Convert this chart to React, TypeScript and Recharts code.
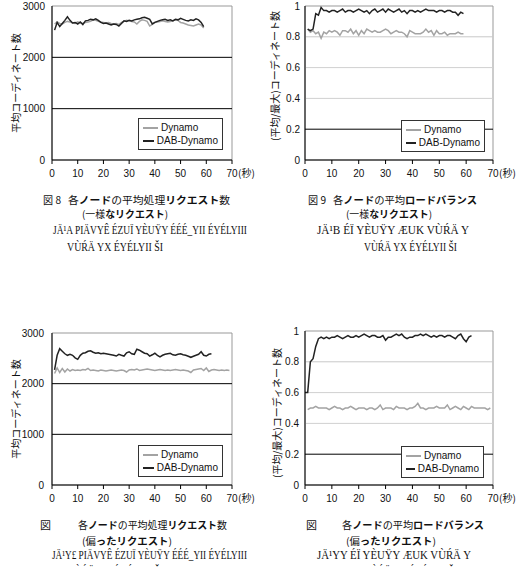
import React from "react";
import {
  LineChart,
  Line,
  XAxis,
  YAxis,
  ReferenceLine,
  ReferenceArea,
  Legend,
  Label,
} from "recharts";

const FONT = "'Liberation Sans', Arial, sans-serif";
const JP = "'Noto Sans CJK JP', 'Noto Sans', sans-serif";
const GRAY = "#a3a3a3";
const BLACK = "#222";

const xTicks = [0, 10, 20, 30, 40, 50, 60, 70];
const countTicks = [0, 1000, 2000, 3000];
const ratioTicks = [0, 0.2, 0.4, 0.6, 0.8, 1];

// fig 8: uniform requests, avg coordinated requests (from t=1)
const uniCountDynamo = [
  2650, 2690, 2660, 2650, 2680, 2700, 2690, 2670, 2660, 2690, 2670, 2660, 2680, 2690, 2700,
  2730, 2720, 2700, 2690, 2680, 2670, 2680, 2660, 2650, 2660, 2640, 2680, 2700, 2720, 2710,
  2700, 2690, 2650, 2700, 2730, 2720, 2700, 2610, 2640, 2680, 2690, 2700, 2710, 2700, 2690,
  2700, 2710, 2730, 2720, 2680, 2670, 2650, 2630, 2620, 2610, 2630, 2650, 2630, 2570,
];
const uniCountDab = [
  2530, 2680, 2600, 2660, 2720, 2790, 2720, 2670, 2680, 2650, 2690, 2640, 2710, 2720, 2740,
  2730, 2750, 2720, 2680, 2660, 2670, 2650, 2630, 2650, 2640, 2610, 2660, 2710, 2700, 2720,
  2710, 2730, 2740, 2750, 2770, 2780, 2760, 2740, 2650, 2680, 2700, 2720, 2730, 2740, 2720,
  2730, 2710, 2740, 2730, 2760, 2740, 2720, 2710, 2730, 2720, 2750, 2730, 2680, 2600,
];

// fig 9: uniform requests, avg/max ratio (from t=1)
const uniRatioDynamo = [
  0.85, 0.83, 0.84, 0.82, 0.83, 0.79, 0.83, 0.82, 0.84, 0.83, 0.84, 0.83, 0.81, 0.84, 0.84,
  0.83, 0.85, 0.82, 0.84, 0.81, 0.84, 0.82, 0.85, 0.84, 0.83, 0.84, 0.83, 0.83, 0.84, 0.85,
  0.84, 0.82, 0.83, 0.84, 0.83, 0.83, 0.82, 0.8, 0.84, 0.83, 0.82, 0.82, 0.82, 0.83, 0.85,
  0.83, 0.84, 0.81, 0.84, 0.82, 0.82, 0.83, 0.81, 0.82, 0.82, 0.82, 0.83, 0.82, 0.82,
];
const uniRatioDab = [
  0.85, 0.84, 0.85, 0.95, 0.94, 0.99, 0.97, 0.97, 0.96, 0.97, 0.97, 0.96, 0.97, 0.98, 0.96,
  0.97, 0.97, 0.96, 0.97, 0.98, 0.97, 0.96, 0.97, 0.95, 0.97, 0.98, 0.96, 0.97, 0.98, 0.96,
  0.98, 0.97, 0.96, 0.97, 0.98, 0.96, 0.97, 0.95, 0.97, 0.97, 0.96, 0.97, 0.96, 0.97, 0.98,
  0.97, 0.97, 0.97, 0.96, 0.97, 0.97, 0.96, 0.97, 0.97, 0.96, 0.96, 0.94, 0.96, 0.95,
];

// fig 10: skewed requests, avg coordinated requests (from t=1)
const skewCountDynamo = [
  2200, 2310, 2220, 2300, 2230, 2290, 2250, 2280, 2260, 2270, 2260, 2280, 2270, 2300, 2260,
  2270, 2260, 2250, 2270, 2260, 2250, 2260, 2270, 2260, 2250, 2260, 2270, 2260, 2230, 2270,
  2280, 2270, 2290, 2260, 2270, 2280, 2290, 2280, 2270, 2260, 2270, 2280, 2270, 2260, 2270,
  2260, 2270, 2280, 2270, 2260, 2270, 2260, 2250, 2220, 2270, 2280, 2290, 2300, 2260, 2310,
  2240, 2270, 2280, 2270, 2260, 2270, 2260, 2270, 2260,
];
const skewCountDab = [
  2270, 2560, 2690, 2640, 2590, 2560, 2580, 2560, 2510, 2480, 2560, 2600, 2610, 2640, 2650,
  2620, 2600, 2610, 2590, 2600, 2590, 2580, 2570, 2560, 2545, 2580, 2560, 2545, 2610, 2630,
  2590, 2580, 2680, 2660, 2630, 2600, 2590, 2545, 2570, 2600, 2560, 2530, 2560, 2580, 2590,
  2600, 2570, 2560, 2580, 2590, 2570, 2560, 2540, 2520, 2540, 2560, 2580, 2630, 2560, 2545,
  2580, 2590,
];

// fig 11: skewed requests, avg/max ratio (Dynamo from t=1, DAB from t=0)
const skewRatioDynamo = [
  0.49, 0.5, 0.5, 0.51, 0.5, 0.5, 0.5, 0.5, 0.49, 0.5, 0.51, 0.5, 0.5, 0.49, 0.5, 0.5, 0.51,
  0.5, 0.49, 0.5, 0.5, 0.5, 0.49, 0.5, 0.5, 0.49, 0.5, 0.52, 0.49, 0.5, 0.5, 0.5, 0.49, 0.51,
  0.5, 0.5, 0.5, 0.49, 0.5, 0.5, 0.51, 0.53, 0.5, 0.5, 0.49, 0.5, 0.5, 0.5, 0.51, 0.5, 0.5,
  0.5, 0.52, 0.49, 0.5, 0.51, 0.5, 0.49, 0.51, 0.5, 0.49, 0.51, 0.5, 0.5, 0.5, 0.5, 0.5, 0.49,
  0.5,
];
const skewRatioDab = [
  0.6, 0.6, 0.8, 0.82, 0.9, 0.95, 0.96, 0.95, 0.96, 0.95, 0.96, 0.96, 0.97, 0.96, 0.95, 0.96,
  0.97, 0.96, 0.96, 0.97, 0.96, 0.97, 0.98, 0.97, 0.96, 0.97, 0.97, 0.96, 0.96, 0.97, 0.94,
  0.96, 0.96, 0.97, 0.98, 0.97, 0.98, 0.96, 0.95, 0.96, 0.96, 0.97, 0.97, 0.98, 0.97, 0.98,
  0.97, 0.96, 0.97, 0.96, 0.97, 0.97, 0.96, 0.97, 0.97, 0.96, 0.95, 0.97, 0.98, 0.95, 0.93,
  0.96, 0.97,
];

const buildRows = (dynamo: number[], dStart: number, dab: number[], bStart: number) => {
  const last = Math.max(dStart + dynamo.length, bStart + dab.length);
  const rows: { t: number; dynamo: number | null; dab: number | null }[] = [];
  for (let t = 0; t < last; t++) {
    rows.push({ t, dynamo: dynamo[t - dStart] ?? null, dab: dab[t - bStart] ?? null });
  }
  return rows;
};

const XTick = (props: any) => {
  const { x, y, payload } = props;
  return (
    <g>
      <text x={x} y={y} dy={8} textAnchor="middle" fontSize={10} fill="#111" fontFamily={FONT}>
        {payload.value}
      </text>
      {payload.value === 70 && (
        <text x={x + 6} y={y} dy={8} textAnchor="start" fontSize={10} fill="#111" fontFamily={JP}>
          (秒)
        </text>
      )}
    </g>
  );
};

const LegendBox = () => (
  <div
    style={{
      border: "1px solid #333",
      background: "#fff",
      boxSizing: "border-box",
      padding: "2px 4px",
      fontFamily: FONT,
      fontSize: 10,
      color: "#111",
      lineHeight: "13px",
    }}
  >
    {[
      ["Dynamo", GRAY],
      ["DAB-Dynamo", BLACK],
    ].map(([name, c]) => (
      <div key={name} style={{ display: "flex", alignItems: "center", whiteSpace: "nowrap" }}>
        <span style={{ display: "inline-block", width: 15, borderTop: `2px solid ${c}`, marginRight: 3 }} />
        {name}
      </div>
    ))}
  </div>
);

interface PanelProps {
  left: number;
  top: number;
  height: number;
  marginTop: number;
  marginRight: number;
  yWidth: number;
  yMax: number;
  yTicks: number[];
  yLabel: string;
  labelPos: [number, number];
  grid: [number, string][];
  legendPos: [number, number, number];
  rows: { t: number; dynamo: number | null; dab: number | null }[];
  tickGap: number;
}

const Panel = (p: PanelProps) => (
  <div style={{ position: "absolute", left: p.left, top: p.top }}>
    <LineChart
      width={264}
      height={p.height}
      data={p.rows}
      margin={{ top: p.marginTop, right: p.marginRight, bottom: 0, left: 0 }}
    >
      <ReferenceArea x1={0} x2={70} y1={0} y2={p.yMax} fill="none" stroke="#999" strokeWidth={1} />
      {p.grid.map(([v, c]) => (
        <ReferenceLine key={v} y={v} stroke={c} strokeWidth={1} />
      ))}
      <XAxis
        dataKey="t"
        type="number"
        domain={[0, 70]}
        ticks={xTicks}
        height={25}
        tickSize={4}
        tickMargin={5}
        axisLine={{ stroke: "#000" }}
        tickLine={{ stroke: "#000" }}
        tick={(tp: any) => <XTick {...tp} />}
      />
      <YAxis
        type="number"
        domain={[0, p.yMax]}
        ticks={p.yTicks}
        width={p.yWidth}
        tickSize={0}
        tickMargin={p.tickGap}
        axisLine={{ stroke: "#000" }}
        tickLine={false}
        tick={{ fontSize: 10, fill: "#111", fontFamily: FONT }}
      >
        <Label
          content={() => (
            <text
              x={p.labelPos[0]}
              y={p.labelPos[1]}
              transform={`rotate(-90 ${p.labelPos[0]} ${p.labelPos[1]})`}
              textAnchor="middle"
              dominantBaseline="central"
              fontSize={10}
              fill="#111"
              fontFamily={JP}
            >
              {p.yLabel}
            </text>
          )}
        />
      </YAxis>
      <Legend
        layout="vertical"
        align="center"
        verticalAlign="middle"
        wrapperStyle={{ left: p.legendPos[0], top: p.legendPos[1], width: p.legendPos[2] }}
        content={() => <LegendBox />}
      />
      <Line dataKey="dynamo" stroke={GRAY} strokeWidth={1.5} dot={false} isAnimationActive={false} />
      <Line dataKey="dab" stroke={BLACK} strokeWidth={1.5} dot={false} isAnimationActive={false} />
    </LineChart>
  </div>
);

const countGrid: [number, string][] = [
  [1000, "#000"],
  [2000, "#000"],
];
const ratioGrid: [number, string][] = [
  [0.2, "#000"],
  [0.4, "#d0d0d0"],
  [0.6, "#d0d0d0"],
  [0.8, "#c8c8c8"],
];

const Cap = ({ x, y, w, size = 10, serif = false, children }: any) => (
  <text
    x={x}
    y={y}
    textLength={w}
    lengthAdjust="spacingAndGlyphs"
    fontSize={size}
    fontFamily={serif ? "'Liberation Serif', serif" : JP}
    fill="#111"
  >
    {children}
  </text>
);

const B = ({ children }: any) => <tspan fontWeight="bold">{children}</tspan>;

const Captions = () => (
  <svg
    width={528}
    height={567}
    style={{ position: "absolute", left: 0, top: 0, pointerEvents: "none" }}
  >
    {/* fig 8 */}
    <Cap x={43} y={204} w={18}>図 8</Cap>
    <Cap x={68} y={204} w={162}>
      各<B>ノード</B>の平均処理<B>リクエスト</B>数
    </Cap>
    <Cap x={82} y={218} w={86}>
      (一様<B>なリクエスト</B>)
    </Cap>
    <Cap x={53} y={234} w={194} size={13} serif>JÄ¹A  PIÄVYÊ ÉZUÏ YÈUŸY ÉÉÉ_YII  ÉYÉLYIII</Cap>
    <Cap x={67} y={251} w={96} size={13} serif>VÙŔÄ YX ÉYÉLYII ŠI</Cap>

    {/* fig 9 */}
    <Cap x={308} y={204} w={18}>図 9</Cap>
    <Cap x={333} y={204} w={144}>
      各<B>ノード</B>の平均<B>ロードバランス</B>
    </Cap>
    <Cap x={346} y={218} w={86}>
      (一様<B>なリクエスト</B>)
    </Cap>
    <Cap x={317} y={234} w={152} size={13} serif>JÄ¹B  ÉÏ YÈUŸY ÆUK VÙŔÄ Y</Cap>
    <Cap x={364} y={251} w={93} size={13} serif>VÙŔÄ YX ÉYÉLYII ŠI</Cap>

    {/* fig 10 */}
    <Cap x={40} y={529} w={11}>図</Cap>
    <Cap x={78} y={529} w={149}>
      各<B>ノード</B>の平均処理<B>リクエスト</B>数
    </Cap>
    <Cap x={82} y={545} w={90}>
      (偏<B>ったリクエスト</B>)
    </Cap>
    <Cap x={52} y={559} w={195} size={13} serif>JÄ¹Y£  PIÄVYÊ ÉZUÏ YÈUŸY ÉÉÉ_YII  ÉYÉLYIII</Cap>
    <Cap x={67} y={575} w={96} size={12} serif>VÙŔÄ YX ÉYÉLYII ŠI</Cap>

    {/* fig 11 */}
    <Cap x={306} y={529} w={11}>図</Cap>
    <Cap x={342} y={529} w={142}>
      各<B>ノード</B>の平均<B>ロードバランス</B>
    </Cap>
    <Cap x={346} y={545} w={90}>
      (偏<B>ったリクエスト</B>)
    </Cap>
    <Cap x={317} y={559} w={154} size={13} serif>JÄ¹YY  ÉÏ YÈUŸY ÆUK VÙŔÄ Y</Cap>
    <Cap x={364} y={575} w={93} size={12} serif>VÙŔÄ YX ÉYÉLYII ŠI</Cap>
  </svg>
);

export default function App() {
  return (
    <div style={{ position: "absolute", left: 0, top: 0, width: 528, height: 567, background: "#fff", overflow: "hidden" }}>
      <Panel
        left={0}
        top={0}
        height={185}
        marginTop={6}
        marginRight={32}
        yWidth={52}
        yMax={3000}
        yTicks={countTicks}
        yLabel="平均コーディネート数"
        labelPos={[15, 83]}
        grid={countGrid}
        legendPos={[138, 118, 85]}
        rows={buildRows(uniCountDynamo, 1, uniCountDab, 1)}
        tickGap={7}
      />
      <Panel
        left={264}
        top={0}
        height={185}
        marginTop={6}
        marginRight={35}
        yWidth={41}
        yMax={1}
        yTicks={ratioTicks}
        yLabel="(平均/最大)コーディネート数"
        labelPos={[10, 76]}
        grid={ratioGrid}
        legendPos={[137, 120, 84]}
        rows={buildRows(uniRatioDynamo, 1, uniRatioDab, 1)}
        tickGap={5}
      />
      <Panel
        left={0}
        top={310}
        height={200}
        marginTop={23}
        marginRight={32}
        yWidth={52}
        yMax={3000}
        yTicks={countTicks}
        yLabel="平均コーディネート数"
        labelPos={[15, 99]}
        grid={countGrid}
        legendPos={[138, 135, 85]}
        rows={buildRows(skewCountDynamo, 1, skewCountDab, 1)}
        tickGap={8}
      />
      <Panel
        left={264}
        top={310}
        height={200}
        marginTop={21}
        marginRight={35}
        yWidth={41}
        yMax={1}
        yTicks={ratioTicks}
        yLabel="(平均/最大)コーディネート数"
        labelPos={[12, 103]}
        grid={ratioGrid}
        legendPos={[137, 136, 83]}
        rows={buildRows(skewRatioDynamo, 1, skewRatioDab, 0)}
        tickGap={6}
      />
      <Captions />
    </div>
  );
}
